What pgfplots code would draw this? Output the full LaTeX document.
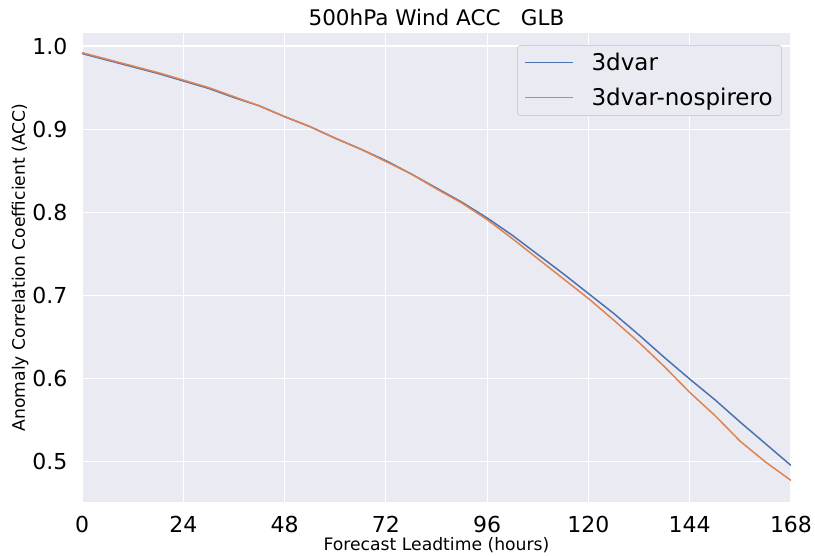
\documentclass[border=0pt]{standalone}
\usepackage{pgfplots}
\pgfplotsset{compat=1.18}
\usepackage{fontspec}
\setmainfont{DejaVu Sans}
\definecolor{sbbg}{HTML}{EAEAF2}
\definecolor{sbblue}{HTML}{4C72B0}
\definecolor{sborange}{HTML}{DD8452}
\begin{document}
\begin{tikzpicture}
\begin{axis}[
  scale only axis, width=709pt, height=469pt,
  xmin=0, xmax=168, ymin=0.451, ymax=1.0157,
  xtick={0,24,...,168}, ytick={0.5,0.6,0.7,0.8,0.9,1.0},
  yticklabel style={/pgf/number format/fixed,/pgf/number format/fixed zerofill,/pgf/number format/precision=1},
  /pgf/number format/assume math mode=true,
  axis background/.style={fill=sbbg},
  axis line style={draw=none},
  major tick length=0pt,
  grid=major, major grid style={white, line width=1.1pt},
  ticklabel style={font=\fontsize{22}{26}\selectfont},
  xticklabel style={yshift=-11pt},
  yticklabel style={xshift=-11pt},
  title={500hPa Wind ACC\ \ \ GLB},
  title style={font=\fontsize{21.5}{25}\selectfont, at={(axis description cs:0.5,1)}, anchor=center, yshift=10pt},
  xlabel={Forecast Leadtime (hours)},
  ylabel={Anomaly Correlation Coefficient (ACC)},
  xlabel style={font=\fontsize{17.2}{20}\selectfont, at={(axis description cs:0.5,-0.0917)}, anchor=center},
  ylabel style={font=\fontsize{17.2}{20}\selectfont, at={(axis description cs:-0.0874,0.5)}, anchor=center},
  legend style={at={(0.987,0.974)}, anchor=north east, fill=sbbg, draw=black!25, rounded corners=3pt,
    font=\fontsize{23}{27}\selectfont, row sep=12pt, inner xsep=7pt, inner ysep=6pt},
  legend cell align=left,
  legend image code/.code={\draw[#1, line width=1.2pt] (0pt,0pt) -- (48pt,0pt);},
]
\addplot[sbblue, line width=1.5pt] coordinates {
(0,0.991) (6,0.983) (12,0.975) (18,0.967) (24,0.958) (30,0.949) (36,0.938) (42,0.928)
(48,0.915) (54,0.903) (60,0.889) (66,0.876) (72,0.862) (78,0.846) (84,0.829) (90,0.812)
(96,0.793) (102,0.772) (108,0.749) (114,0.726) (120,0.702) (126,0.678) (132,0.652)
(138,0.625) (144,0.599) (150,0.574) (156,0.547) (162,0.521) (168,0.495)
};
\addlegendentry{\hspace*{16pt}3dvar}
\addplot[sborange, line width=1.5pt] coordinates {
(0,0.992) (6,0.984) (12,0.976) (18,0.968) (24,0.959) (30,0.950) (36,0.939) (42,0.928)
(48,0.915) (54,0.903) (60,0.889) (66,0.876) (72,0.861) (78,0.846) (84,0.828) (90,0.811)
(96,0.791) (102,0.768) (108,0.744) (114,0.720) (120,0.696) (126,0.670) (132,0.643)
(138,0.614) (144,0.583) (150,0.555) (156,0.524) (162,0.499) (168,0.477)
};
\addlegendentry{\hspace*{16pt}3dvar-nospirero}
\end{axis}
\pgfresetboundingbox
\path[use as bounding box] (-82pt,-54pt) rectangle (733pt,502pt);
\end{tikzpicture}
\end{document}
